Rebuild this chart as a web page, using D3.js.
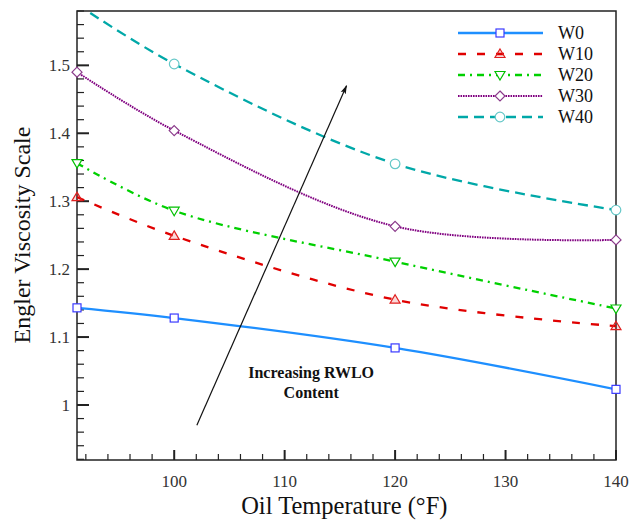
<!DOCTYPE html>
<meta charset="utf-8">
<style>
  body { margin: 0; background: #fff; }
  text { font-family: "Liberation Serif", "Times New Roman", "DejaVu Serif", serif; }
</style>
<svg width="630" height="522"></svg>
<script src="https://cdn.jsdelivr.net/npm/d3@7/dist/d3.min.js"></script>
<script>
// data
var temps = [91.2, 100, 120, 140];
var w0  = [1.143, 1.128, 1.084, 1.023];
var w10 = [1.306, 1.249, 1.155, 1.116];
var w20 = [1.356, 1.286, 1.211, 1.142];
var w30 = [1.490, 1.404, 1.263, 1.243];
var w40 = [1.590, 1.502, 1.355, 1.287];
var seriesNames = ["W0", "W10", "W20", "W30", "W40"];
var xTicks = [100, 110, 120, 130, 140];
var yTicks = [1, 1.1, 1.2, 1.3, 1.4, 1.5];

var FONT = "Liberation Serif, Times New Roman, DejaVu Serif, serif";

var svg = d3.select("svg").attr("font-family", FONT);
var margin = {top: 11, right: 14, bottom: 62, left: 77};
var width = +svg.attr("width") - margin.left - margin.right;
var height = +svg.attr("height") - margin.top - margin.bottom;

var g = svg.append("g").attr("transform", "translate(" + margin.left + "," + margin.top + ")");

var x = d3.scaleLinear().domain([91.2, 140]).range([0, width]);
var y = d3.scaleLinear().domain([0.919, 1.58]).range([height, 0]);

var styles = [
  {line: "#1e8fff", mark: "#3a3aff", dash: null,        width: 2.3, shape: "square"},
  {line: "#e00000", mark: "#e02020", dash: "8,11",      width: 2.3, shape: "tri"},
  {line: "#00d000", mark: "#00c000", dash: "7,5,2,5",   width: 2.3, shape: "tridown"},
  {line: "#800080", mark: "#8a3a8a", dash: "1.6,0.9",   width: 2,   shape: "diamond"},
  {line: "#00a8a8", mark: "#66c8c8", dash: "10,6",      width: 2.3, shape: "circle"}
];
var allSeries = [w0, w10, w20, w30, w40];

g.append("clipPath").attr("id", "clip")
  .append("rect").attr("width", width).attr("height", height);

// minor ticks + major ticks (pointing inward)
var xMinor = d3.range(92, 141, 2);
g.append("g").selectAll("line").data(xMinor).enter().append("line")
  .attr("x1", function(d) { return x(d); }).attr("x2", function(d) { return x(d); })
  .attr("y1", height).attr("y2", function(d) { return d % 10 === 0 ? height - 10 : height - 6; })
  .attr("stroke", "#222").attr("stroke-width", function(d) { return d % 10 === 0 ? 2 : 1.2; });

var yMinor = d3.range(0.92, 1.581, 0.02);
g.append("g").selectAll("line").data(yMinor).enter().append("line")
  .attr("y1", function(d) { return y(d); }).attr("y2", function(d) { return y(d); })
  .attr("x1", 0).attr("x2", function(d) { return Math.round(d * 100) % 10 === 0 ? 12 : 7; })
  .attr("stroke", "#222").attr("stroke-width", function(d) { return Math.round(d * 100) % 10 === 0 ? 2 : 1.2; });

// tick labels
g.append("g").selectAll("text").data(xTicks).enter().append("text")
  .attr("x", function(d) { return x(d); }).attr("y", height + 27)
  .attr("font-family", FONT)
  .attr("text-anchor", "middle").attr("font-size", 17).attr("fill", "#333")
  .text(function(d) { return d; });

g.append("g").selectAll("text").data(yTicks).enter().append("text")
  .attr("x", -7).attr("y", function(d) { return y(d); }).attr("dy", "0.35em")
  .attr("font-family", FONT)
  .attr("text-anchor", "end").attr("font-size", 17).attr("fill", "#333")
  .text(function(d) { return d; });

// frame
g.append("rect").attr("width", width).attr("height", height)
  .attr("fill", "none").attr("stroke", "#222").attr("stroke-width", 1.5);

// lines
var line = d3.line()
  .x(function(d, i) { return x(temps[i]); })
  .y(function(d) { return y(d); })
  .curve(d3.curveCatmullRom);

var marker = function(sel, shape, color) {
  var s = 4;
  if (shape === "square") sel.append("rect").attr("x", -s).attr("y", -s).attr("width", 2*s).attr("height", 2*s);
  else if (shape === "circle") sel.append("circle").attr("r", s + 0.8);
  else if (shape === "tri") sel.append("path").attr("d", "M0,-5L5,3.5L-5,3.5Z");
  else if (shape === "tridown") sel.append("path").attr("d", "M0,5L5,-3.5L-5,-3.5Z");
  else sel.append("path").attr("d", "M0,-5L5,0L0,5L-5,0Z");
  sel.selectAll("*").attr("fill", shape === "tri" ? "rgba(224,0,0,0.15)" : "#fff")
    .attr("stroke", color).attr("stroke-width", 1.2);
};

allSeries.forEach(function(vals, k) {
  var st = styles[k];
  g.append("path").datum(vals)
    .attr("clip-path", "url(#clip)")
    .attr("fill", "none").attr("stroke", st.line).attr("stroke-width", st.width)
    .attr("stroke-dasharray", st.dash)
    .attr("d", line);
  vals.forEach(function(v, i) {
    if (y(v) < 0) return;
    var m = g.append("g").attr("transform", "translate(" + x(temps[i]) + "," + y(v) + ")");
    marker(m, st.shape, st.mark);
  });
});

// legend
var legend = g.append("g").attr("transform", "translate(" + (458 - margin.left) + "," + (33 - margin.top) + ")");
seriesNames.forEach(function(name, k) {
  var st = styles[k];
  var row = legend.append("g").attr("transform", "translate(0," + (k * 21) + ")");
  row.append("line").attr("x1", 0).attr("x2", 85)
    .attr("stroke", st.line).attr("stroke-width", st.width).attr("stroke-dasharray", st.dash);
  marker(row.append("g").attr("transform", "translate(42,0)"), st.shape, st.mark);
  row.append("text").attr("x", 100).attr("dy", "0.35em")
    .attr("font-family", FONT)
    .attr("font-size", 18).attr("fill", "#111").text(name);
});

// annotation arrow
svg.append("defs").append("marker").attr("id", "arrow")
  .attr("viewBox", "0 0 10 10").attr("refX", 9).attr("refY", 5)
  .attr("markerWidth", 9).attr("markerHeight", 9).attr("markerUnits", "userSpaceOnUse")
  .attr("orient", "auto")
  .append("path").attr("d", "M0,2L10,5L0,8L2,5Z").attr("fill", "#111");
g.append("line")
  .attr("x1", x(102.05)).attr("y1", y(0.97))
  .attr("x2", x(115.6)).attr("y2", y(1.47))
  .attr("stroke", "#111").attr("stroke-width", 1.2)
  .attr("marker-end", "url(#arrow)");
var note = g.append("text").attr("text-anchor", "middle")
  .attr("font-family", FONT)
  .attr("font-size", 16).attr("font-weight", "bold").attr("fill", "#111");
note.append("tspan").attr("x", x(112.4)).attr("y", y(1.04)).text("Increasing RWLO");
note.append("tspan").attr("x", x(112.4)).attr("dy", 20).text("Content");

// axis titles
svg.append("text").attr("x", margin.left + x(115.4)).attr("y", 514)
  .attr("font-family", FONT)
  .attr("text-anchor", "middle").attr("font-size", 24.5).attr("fill", "#111")
  .text("Oil Temperature (°F)");
svg.append("text").attr("transform", "translate(30,235) rotate(-90)")
  .attr("font-family", FONT)
  .attr("text-anchor", "middle").attr("font-size", 24).attr("fill", "#111")
  .text("Engler Viscosity Scale");
</script>
